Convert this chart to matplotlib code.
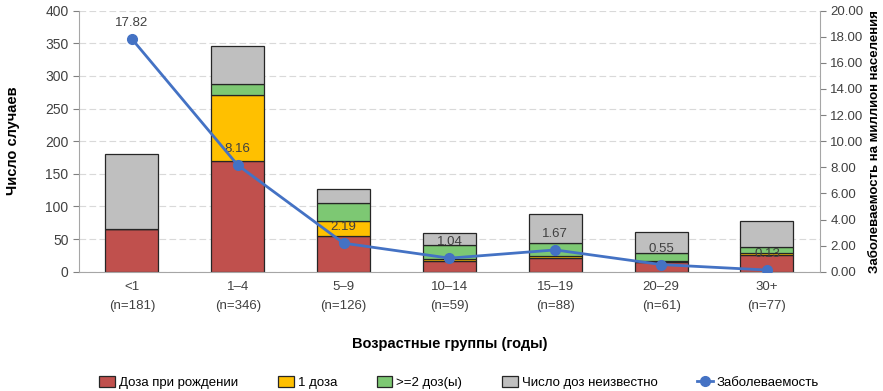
import numpy as np
import matplotlib
matplotlib.use("Agg")
import matplotlib.pyplot as plt

plt.rcParams['font.family'] = ['Liberation Sans', 'DejaVu Sans']

# DATA
groups = ["<1", "1–4", "5–9", "10–14", "15–19", "20–29", "30+"]
totals = [181, 346, 126, 59, 88, 61, 77]
birth_dose = [65, 170, 55, 16, 21, 15, 26]
one_dose = [0, 101, 23, 4, 3, 2, 2]
two_plus = [1, 17, 27, 21, 20, 12, 10]
unknown = [115, 58, 21, 18, 44, 32, 39]
incidence = [17.82, 8.16, 2.19, 1.04, 1.67, 0.55, 0.13]

series = [
    ("Доза при рождении", birth_dose, "#C0504D"),
    ("1 доза", one_dose, "#FFC000"),
    (">=2 доз(ы)", two_plus, "#7DC873"),
    ("Число доз неизвестно", unknown, "#BFBFBF"),
]

x = np.arange(len(groups))
tick_labels = [f"{g}\n(n={n})" for g, n in zip(groups, totals)]
txt = "#404040"

fig = plt.figure(figsize=(8.83, 3.91), dpi=100)
ax = fig.add_axes([0.0895, 0.305, 0.839, 0.668])

bottom = np.zeros(len(groups))
for name, vals, col in series:
    ax.bar(x, vals, 0.5, bottom=bottom, color=col, edgecolor="#262626",
           linewidth=0.9, label=name, zorder=2)
    bottom += np.array(vals)

ax.set_xlim(-0.5, len(groups) - 0.5)
ax.set_ylim(0, 400)
ax.set_yticks(range(0, 401, 50))
ax.set_xticks(x)
ax.set_xticklabels(tick_labels, fontsize=9.5, color=txt, linespacing=1.7)
ax.tick_params(axis="y", labelsize=10, colors=txt, length=4, color="#808080")
ax.tick_params(axis="x", length=0, pad=7)
ax.grid(axis="y", color="#D9D9D9", linestyle=(0, (6, 3)), linewidth=0.8, zorder=0)
for s in ["top", "right"]:
    ax.spines[s].set_visible(False)
for s in ["left", "bottom"]:
    ax.spines[s].set_color("#A6A6A6")
ax.set_ylabel("Число случаев", fontsize=10.5, fontweight="bold", labelpad=18)
ax.set_xlabel("Возрастные группы (годы)", fontsize=10.5, fontweight="bold", labelpad=18)

ax2 = ax.twinx()
ax2.plot(x, incidence, color="#4472C4", linewidth=2, marker="o", markersize=7,
         label="Заболеваемость", zorder=5)
for xi, v in zip(x, incidence):
    ax2.annotate(f"{v:.2f}", (xi, v), xytext=(0, 7), textcoords="offset points",
                 ha="center", va="bottom", fontsize=9.5, color=txt)
ax2.set_ylim(0, 20)
ax2.set_yticks(range(0, 21, 2))
ax2.set_yticklabels([f"{v:.2f}" for v in range(0, 21, 2)])
ax2.tick_params(axis="y", labelsize=9.5, colors=txt, length=4, color="#808080")
for s in ["top", "left", "bottom"]:
    ax2.spines[s].set_visible(False)
ax2.spines["right"].set_color("#A6A6A6")
ax2.set_ylabel("Заболеваемость на миллион населения", fontsize=9.5,
               fontweight="bold", labelpad=4)

h1, l1 = ax.get_legend_handles_labels()
h2, l2 = ax2.get_legend_handles_labels()
fig.legend(h1 + h2, l1 + l2, loc="lower center", ncol=5, frameon=False,
           fontsize=9.5, bbox_to_anchor=(0.52, -0.025), handlelength=1.2,
           handleheight=0.9, columnspacing=3.0, handletextpad=0.3)

fig.savefig("out.png", dpi=100)
